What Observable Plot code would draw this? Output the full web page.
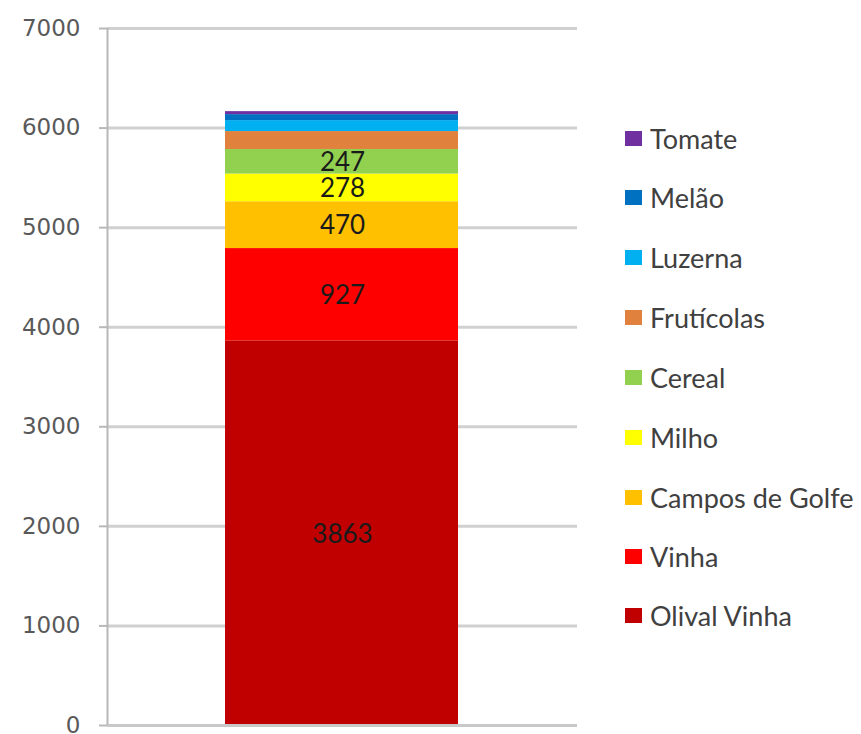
<!DOCTYPE html>
<html>
<head>
<meta charset="utf-8">
<script src="https://cdn.jsdelivr.net/npm/d3@7"></script>
<script src="https://cdn.jsdelivr.net/npm/@observablehq/plot@0.6"></script>
<style>
  html, body { margin: 0; padding: 0; background: #fff; }
  #wrap { position: relative; width: 861px; height: 734px; }
  #legend { position: absolute; left: 625px; top: 0; font-family: Lato, "Open Sans", sans-serif; font-size: 27px; color: #404040; }
  .item { position: absolute; left: 0; white-space: nowrap; display: flex; align-items: center; height: 30px; }
  .sw { width: 17px; height: 15px; margin-right: 8px; }
</style>
</head>
<body>
<div id="wrap"><div id="legend"></div></div>
<script>
const categories = ["Olival Vinha", "Vinha", "Campos de Golfe", "Milho", "Cereal", "Fruticolas", "Luzerna", "Melão", "Tomate"];
const values = [3863, 927, 470, 278, 247, 180, 110, 60, 30];
const colors = ["#c00000", "#ff0000", "#ffc000", "#ffff00", "#92d050", "#e0823d", "#00b0f0", "#0070c0", "#7030a0"];
const labelled = [true, true, true, true, true, false, false, false, false];
const yTicks = [0, 1000, 2000, 3000, 4000, 5000, 6000, 7000];

const data = categories.map((c, i) => ({group: "A", cat: c, value: values[i], show: labelled[i]}));

const chart = Plot.plot({
  width: 861,
  height: 734,
  marginLeft: 107,
  marginRight: 284,
  marginTop: 28,
  marginBottom: 9,
  style: {fontFamily: "DejaVu Sans, sans-serif", fontSize: "23px", color: "#595959", background: "#fff", overflow: "visible"},
  x: {domain: ["A"], padding: 0, axis: null},
  y: {domain: [0, 7000], axis: null},
  color: {domain: categories, range: colors},
  marks: [
    Plot.gridY(yTicks, {stroke: "#d0d0d0", strokeOpacity: 1, strokeWidth: 3}),
    Plot.barY(data, Plot.stackY({x: "group", y: "value", fill: "cat", order: categories, insetLeft: 118, insetRight: 119})),
    Plot.text(data.filter(d => d.show), Plot.stackY({x: "group", y: "value", z: "cat", order: categories, text: d => String(d.value), fill: "#1a1a1a", fontFamily: "Lato, sans-serif", fontSize: 26, dy: 1})),
    Plot.ruleY([0], {stroke: "#c8c8c8", strokeWidth: 3}),
    Plot.ruleX(["A"], {y1: 0, y2: 7000, dx: -235, stroke: "#b8b8b8", strokeWidth: 2}),
    Plot.axisY({ticks: yTicks, tickSize: 8, tickPadding: 19, stroke: "#b8b8b8", strokeWidth: 2, strokeOpacity: 1, tickFormat: d => String(d), fill: "#595959", fontSize: 23, label: null})
  ]
});
const wrap = document.getElementById("wrap");
wrap.prepend(chart);

const legend = document.getElementById("legend");
const tops = [123, 182, 242, 302, 362, 422, 482, 541, 600];
const order = categories.slice().reverse();
order.forEach((c, i) => {
  const idx = categories.indexOf(c);
  const div = document.createElement("div");
  div.className = "item";
  div.style.top = tops[i] + "px";
  div.innerHTML = `<span class="sw" style="background:${colors[idx]}"></span><span>${c === "Fruticolas" ? "Frutícolas" : c}</span>`;
  legend.appendChild(div);
});
</script>
</body>
</html>
